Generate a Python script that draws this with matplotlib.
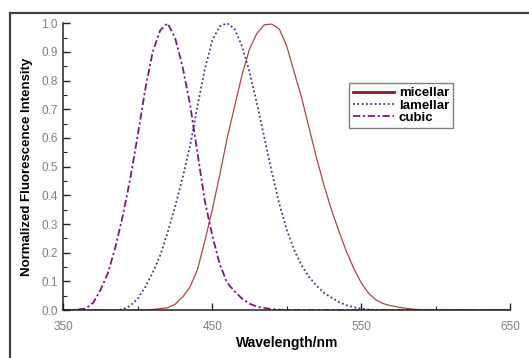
import numpy as np
import matplotlib
matplotlib.use('Agg')
import matplotlib.pyplot as plt
from matplotlib.lines import Line2D
from matplotlib.ticker import FixedLocator, MultipleLocator, FormatStrFormatter

plt.rcParams['font.family'] = ['Liberation Sans', 'DejaVu Sans']

# 波长 (nm) 及读图得到的归一化荧光强度
wavelength = np.arange(350, 655, 5)

micellar = [0] * 11 + [
    0, .002, .005, .008, .02, .045, .08, .14, .24, .35,
    .47, .60, .71, .82, .91, .965, .995, .997, .98, .92,
    .83, .74, .635, .53, .435, .35, .275, .205, .145, .095,
    .058, .035, .022, .015, .01, .006, .003, .001] + [0] * 12

lamellar = [0] * 7 + [
    0, .003, .015, .04, .08, .13, .19, .27, .36, .46,
    .57, .71, .84, .94, .99, 1.0, .98, .92, .83, .72,
    .60, .48, .37, .28, .21, .155, .115, .085, .06, .043,
    .028, .017, .01, .005, .002] + [0] * 19

cubic = [
    0, 0, .002, .005, .025, .07, .13, .22, .33, .46,
    .61, .77, .90, .975, 1.0, .95, .85, .72, .55, .38,
    .26, .16, .095, .065, .04, .022, .012, .007, .003, .001] + [0] * 31

series_names = ['micellar', 'lamellar', 'cubic']
x_major = [350, 450, 550, 650]
x_minor = [400, 500, 600]

fig = plt.figure(figsize=(5.29, 3.58), dpi=100)
ax = fig.add_axes([0.1197, 0.134, 0.8447, 0.801])

ax.plot(wavelength, micellar, color='#A84848', lw=0.9, label=series_names[0])
ax.plot(wavelength, lamellar, color='#3A3A8C', lw=1.3,
        linestyle=(0, (1, 1.4)), label=series_names[1])
ax.plot(wavelength, cubic, color='#7A1A7A', lw=1.3,
        linestyle=(0, (4, 1.5, 1.2, 1.5)), label=series_names[2])

ax.set_xlim(350, 650)
ax.set_ylim(0, 1.0)
ax.xaxis.set_major_locator(FixedLocator(x_major))
ax.xaxis.set_minor_locator(FixedLocator(x_minor))
ax.yaxis.set_major_locator(MultipleLocator(0.1))
ax.yaxis.set_minor_locator(MultipleLocator(0.05))
ax.yaxis.set_major_formatter(FormatStrFormatter('%.1f'))

ax.tick_params(which='both', direction='in', colors='#222222',
               labelcolor='#808080', labelsize=8.5)
ax.tick_params(which='major', length=5, width=1)
ax.tick_params(which='minor', length=3, width=0.8)
ax.tick_params(axis='x', pad=8)
ax.tick_params(axis='y', pad=4)

for s in ['top', 'right']:
    ax.spines[s].set_visible(False)
for s in ['left', 'bottom']:
    ax.spines[s].set_linewidth(1.1)
    ax.spines[s].set_color('#222222')

ax.set_xlabel('Wavelength/nm', fontsize=10, fontweight='bold', labelpad=2)
ax.set_ylabel('Normalized Fluorescence Intensity', fontsize=9.5,
              fontweight='bold', labelpad=6)

leg = ax.legend(loc='upper right', bbox_to_anchor=(0.872, 0.791),
                borderaxespad=0, fancybox=False, framealpha=1,
                edgecolor='#808080', handlelength=3.1,
                handletextpad=0.35, labelspacing=0.0, borderpad=0.3,
                prop={'weight': 'bold', 'size': 9.5})
leg.get_frame().set_linewidth(1.0)
leg.legend_handles[0].set_color('#8B1A1A')
leg.legend_handles[0].set_linewidth(2)

# 图片外框线
fig.add_artist(Line2D([10 / 529, 1], [1 - 13 / 358, 1 - 13 / 358],
                      color='#404040', lw=1.6))
fig.add_artist(Line2D([10 / 529, 10 / 529], [0, 1 - 13 / 358],
                      color='#404040', lw=1.6))

fig.savefig('out.png', dpi=100)
